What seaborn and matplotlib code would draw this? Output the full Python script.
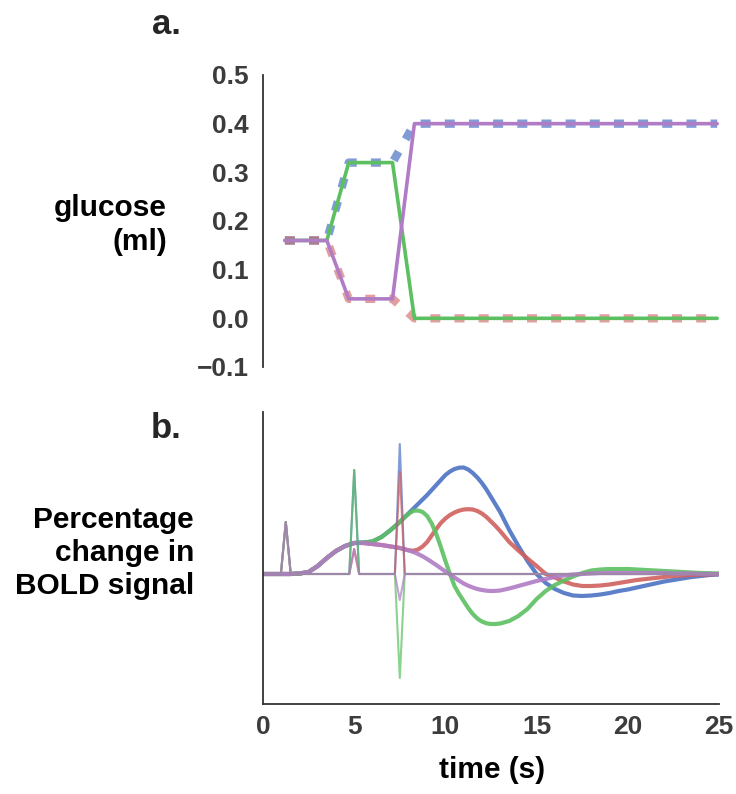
#!/usr/bin/env python3
# -*- coding: utf-8 -*-
"""
Glucose delivered per trial (a) and the BOLD response it predicts (b).
"""
import pandas as pd
import seaborn as sns
import matplotlib.pyplot as plt

###########################################################
### Data

# panel a: glucose (ml) at the kinks of each line
glu_t = [1.2, 3.5, 4.7, 7.1, 8.3, 24.9]
glu_blue = [0.16, 0.16, 0.32, 0.32, 0.40, 0.40]
glu_red = [0.16, 0.16, 0.04, 0.04, 0.00, 0.00]
glu_green = [0.16, 0.16, 0.32, 0.32, 0.00, 0.00]
glu_purple = [0.16, 0.16, 0.04, 0.04, 0.40, 0.40]

# panel b: smooth BOLD curves (0.5 s steps, 0.25 s around the peaks)
bold_t = [0.0, 0.5, 1.0, 1.5, 2.0, 2.5, 3.0, 3.5, 4.0, 4.5, 5.0, 5.5, 6.0, 6.5,
          7.0, 7.25, 7.5, 7.75, 8.0, 8.25, 8.5, 8.75, 9.0, 9.25, 9.5, 9.75,
          10.0, 10.25, 10.5, 10.75, 11.0, 11.25, 11.5, 11.75, 12.0, 12.25,
          12.5, 12.75, 13.0,
          13.5, 14.0, 14.5, 15.0, 15.5, 16.0, 16.5, 17.0, 17.5, 18.0, 18.5,
          19.0, 19.5, 20.0, 20.5, 21.0, 21.5, 22.0, 22.5, 23.0, 23.5, 24.0,
          24.5, 25.0]
bold_blue = [0, 0, 0, 0, 0.005, 0.02, 0.08, 0.16, 0.23, 0.28, 0.31, 0.315, 0.325, 0.37,
             0.44, 0.48, 0.52, 0.565, 0.61, 0.655, 0.70, 0.745, 0.79, 0.84, 0.89, 0.94,
             0.99, 1.025, 1.05, 1.063, 1.065, 1.045, 1.01, 0.965, 0.91, 0.845,
             0.77, 0.695, 0.62,
             0.44, 0.28, 0.13, 0.0, -0.09, -0.15, -0.19, -0.215, -0.22, -0.215, -0.205,
             -0.19, -0.17, -0.155, -0.135, -0.115, -0.095, -0.075, -0.06, -0.045, -0.03, -0.02,
             -0.01, -0.005]
bold_red = [0, 0, 0, 0, 0.005, 0.02, 0.08, 0.16, 0.23, 0.28, 0.31, 0.31, 0.30, 0.29,
            0.275, 0.268, 0.26, 0.248, 0.237, 0.233, 0.245, 0.275, 0.32, 0.385, 0.45, 0.51,
            0.555, 0.59, 0.615, 0.633, 0.645, 0.648, 0.645, 0.63, 0.605, 0.57,
            0.525, 0.48, 0.43,
            0.32, 0.235, 0.155, 0.08, 0.0, -0.035, -0.075, -0.105, -0.12, -0.12, -0.115,
            -0.105, -0.09, -0.075, -0.06, -0.05, -0.04, -0.03, -0.02, -0.015, -0.01, -0.007,
            -0.004, 0.0]
bold_green = [0, 0, 0, 0, 0.005, 0.02, 0.08, 0.16, 0.23, 0.28, 0.31, 0.315, 0.325, 0.37,
              0.44, 0.48, 0.52, 0.565, 0.605, 0.632, 0.635, 0.62, 0.58, 0.505, 0.40, 0.27,
              0.13, 0.0, -0.12, -0.20, -0.27, -0.34, -0.40, -0.445, -0.475, -0.493,
              -0.50, -0.50, -0.495,
              -0.47, -0.42, -0.35, -0.25, -0.17, -0.11, -0.065, -0.025, 0.01, 0.035, 0.045,
              0.05, 0.05, 0.05, 0.045, 0.04, 0.035, 0.03, 0.025, 0.02, 0.015, 0.01,
              0.008, 0.005]
bold_purple = [0, 0, 0, 0, 0.005, 0.02, 0.08, 0.16, 0.23, 0.28, 0.31, 0.31, 0.30, 0.29,
               0.275, 0.268, 0.26, 0.248, 0.235, 0.22, 0.20, 0.177, 0.15, 0.12, 0.09, 0.057,
               0.025, -0.005, -0.035, -0.066, -0.095, -0.117, -0.135, -0.15, -0.16, -0.167,
               -0.17, -0.169, -0.165,
               -0.145, -0.12, -0.095, -0.07, -0.05, -0.03, -0.015, -0.005, 0.0, 0.005, 0.01,
               0.01, 0.01, 0.01, 0.01, 0.01, 0.01, 0.01, 0.005, 0.005, 0.005, 0.0,
               0.0, 0.0]

# panel b: thin event spikes (time, height per series)
spike_t = [1.25, 5.0, 7.5]
spike_blue = [0.52, 1.04, 1.30]
spike_red = [0.52, 0.25, 1.02]
spike_green = [0.52, 1.04, -1.04]
spike_purple = [0.52, 0.25, -0.26]


def spike_frame(heights, half=0.27):
    # baseline at zero with a narrow triangle at each event
    rows = [(0.0, 0.0)]
    for t, h in zip(spike_t, heights):
        rows += [(t - half, 0.0), (t, h), (t + half, 0.0)]
    rows.append((25.0, 0.0))
    return pd.DataFrame(rows, columns=["t", "v"])


###########################################################
### main
def main():
    sns.set_theme(style="white")
    plt.rcParams["font.family"] = ["Liberation Sans", "DejaVu Sans"]

    blue, red, green, purple = "#4c72c4", "#d0605e", "#5cbf60", "#b07cc6"
    tick_col = "#3c3c3c"

    fig = plt.figure(figsize=(7.36, 7.94), dpi=100)
    ax_a = fig.add_axes([263 / 736, 1 - 367 / 794, 456 / 736, 292 / 794])
    ax_b = fig.add_axes([263 / 736, 1 - 704 / 794, 456 / 736, 292 / 794])

    # a. glucose
    dash = (0, (1.2, 1.7))
    sns.lineplot(x=glu_t, y=glu_blue, color=blue, lw=6, alpha=0.7,
                 linestyle=dash, ax=ax_a)
    sns.lineplot(x=glu_t, y=glu_red, color=red, lw=6, alpha=0.6,
                 linestyle=dash, ax=ax_a)
    sns.lineplot(x=glu_t, y=glu_green, color=green, lw=2.6, ax=ax_a)
    sns.lineplot(x=glu_t, y=glu_purple, color=purple, lw=2.6, ax=ax_a)
    ax_a.set_xlim(0, 25)
    ax_a.set_ylim(-0.1, 0.5)
    ax_a.set_yticks([-0.1, 0.0, 0.1, 0.2, 0.3, 0.4, 0.5])
    ax_a.set_yticklabels(["\u22120.1", "0.0", "0.1", "0.2", "0.3", "0.4", "0.5"])
    ax_a.set_xticks([])
    sns.despine(ax=ax_a, bottom=True)

    # b. BOLD
    for vals, col in [(bold_blue, blue), (bold_red, red),
                      (bold_green, green), (bold_purple, purple)]:
        sns.lineplot(x=bold_t, y=vals, color=col, lw=3.0, alpha=0.9,
                     solid_joinstyle="round", ax=ax_b)
    for vals, col in [(spike_blue, blue), (spike_red, red),
                      (spike_green, green), (spike_purple, purple)]:
        df = spike_frame(vals)
        sns.lineplot(data=df, x="t", y="v", color=col, lw=1.5, alpha=0.7,
                     sort=False, estimator=None, ax=ax_b)
    ax_b.set_xlim(0, 25)
    ax_b.set_ylim(-1.30, 1.62)
    ax_b.set_yticks([])
    ax_b.set_xticks([0, 5, 10, 15, 20, 25])
    sns.despine(ax=ax_b)

    for ax in (ax_a, ax_b):
        ax.set_xlabel("")
        ax.set_ylabel("")
        for s in ax.spines.values():
            s.set_color("#333333")
            s.set_linewidth(1.3)
        ax.tick_params(length=0, labelsize=19, labelcolor=tick_col)
        for lab in ax.get_xticklabels() + ax.get_yticklabels():
            lab.set_fontweight("bold")
    ax_a.tick_params(axis="y", pad=10)
    ax_b.tick_params(axis="x", pad=8)

    # labels
    lab_kw = dict(fontsize=21.5, fontweight="bold", color="black")
    fig.text(167 / 736, 1 - 225 / 794, "glucose\n(ml)", ha="right", va="center",
             linespacing=1.3, **lab_kw)
    fig.text(194 / 736, 1 - 553 / 794, "Percentage\nchange in\nBOLD signal",
             ha="right", va="center", linespacing=1.25, **lab_kw)
    fig.text(492 / 736, 1 - 770 / 794, "time (s)", ha="center", va="center", **lab_kw)
    fig.text(166 / 736, 1 - 25 / 794, "a.", ha="center", va="center",
             fontsize=25, fontweight="bold")
    fig.text(166 / 736, 1 - 428 / 794, "b.", ha="center", va="center",
             fontsize=25, fontweight="bold")

    plt.savefig("out.png", dpi=100)


###########################################################
### start main
if __name__ == "__main__":
    main()
